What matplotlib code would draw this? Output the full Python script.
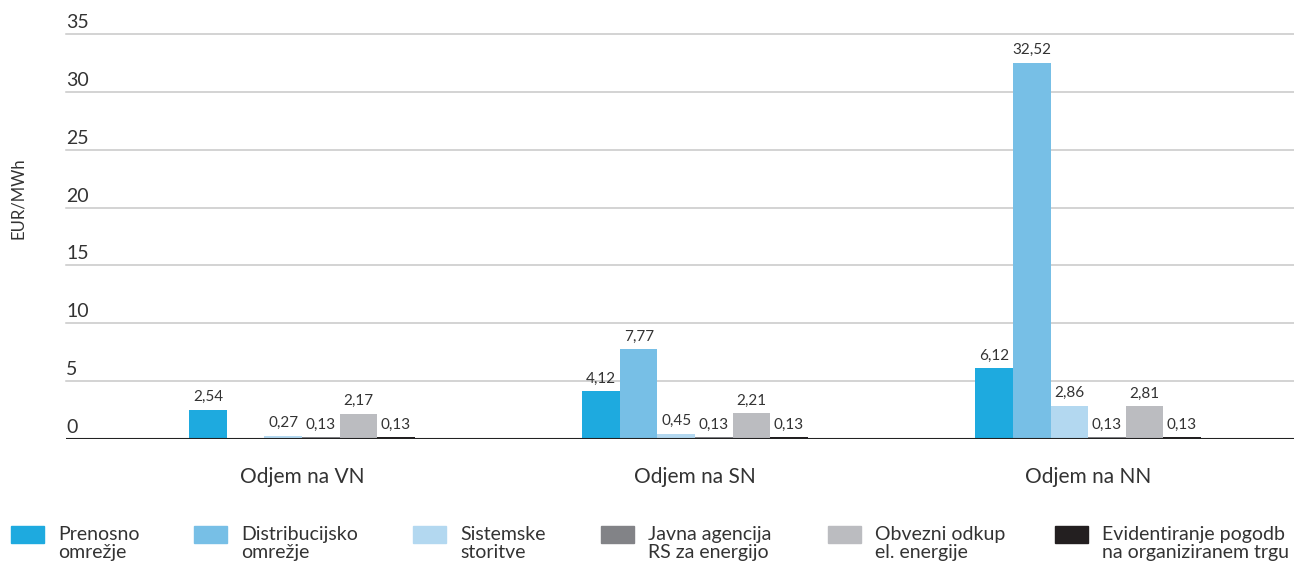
import numpy as np
import matplotlib
matplotlib.use("Agg")
import matplotlib.pyplot as plt
import matplotlib.transforms as mtransforms
from matplotlib.patches import Rectangle

plt.rcParams['font.family'] = ['Lato', 'DejaVu Sans']

categories = ['Odjem na VN', 'Odjem na SN', 'Odjem na NN']
series_names = ['Prenosno\nomrežje', 'Distribucijsko\nomrežje', 'Sistemske\nstoritve',
                'Javna agencija\nRS za energijo', 'Obvezni odkup\nel. energije',
                'Evidentiranje pogodb\nna organiziranem trgu']
prenosno = [2.54, 4.12, 6.12]
distribucijsko = [None, 7.77, 32.52]
sistemske = [0.27, 0.45, 2.86]
agencija = [0.13, 0.13, 0.13]
odkup = [2.17, 2.21, 2.81]
evidentiranje = [0.13, 0.13, 0.13]
series = [prenosno, distribucijsko, sistemske, agencija, odkup, evidentiranje]
colors = ['#1eaadf', '#77bfe6', '#b3d8f0', '#828387', '#bbbcc0', '#231f20']
yticks = [0, 5, 10, 15, 20, 25, 30, 35]

W, H = 1294, 567
fig = plt.figure(figsize=(W / 100, H / 100), dpi=100, facecolor='white')
ax = fig.add_axes([66 / W, (H - 439) / H, 1 - 66 / W, (439 - 34) / H])

txt = '#333333'
x = np.arange(len(categories))
bw = 0.0955
for i, (vals, col) in enumerate(zip(series, colors)):
    h = [0 if v is None else v for v in vals]
    bars = ax.bar(x + (i - 2.5) * bw, h, width=bw, color=col, zorder=3)
    labs = ['' if v is None else ('%.2f' % v).replace('.', ',') for v in vals]
    ax.bar_label(bars, labels=labs, padding=4, fontsize=11, color=txt)

ax.set_xlim(-0.6005, 2.524)
ax.set_ylim(0, 35)
for t in yticks[1:]:
    ax.axhline(t, color='#c8c8c8', lw=1.1, zorder=1, clip_on=False)
ax.axhline(0, color='#222222', lw=1.5, zorder=4)
for s in ax.spines.values():
    s.set_visible(False)

ax.set_yticks(yticks)
ax.set_yticklabels([str(t) for t in yticks], fontsize=14, color=txt, ha='left', va='bottom')
ax.tick_params(axis='y', length=0, pad=0)
offset = mtransforms.ScaledTranslation(0, 3 / 100, fig.dpi_scale_trans)
for lab in ax.yaxis.get_majorticklabels():
    lab.set_transform(lab.get_transform() + offset)

ax.set_xticks(x)
ax.set_xticklabels(categories, fontsize=15, color=txt)
ax.tick_params(axis='x', length=0, pad=20)

fig.text(18 / W, 1 - 198 / H, 'EUR/MWh', rotation=90, fontsize=12, color=txt,
         ha='center', va='center')

# legend
leg_x = [11, 194, 413, 601, 828, 1055]
for lx, name, col in zip(leg_x, series_names, colors):
    fig.add_artist(Rectangle((lx / W, 1 - 543 / H), 33 / W, 17 / H,
                             transform=fig.transFigure, color=col))
    fig.text((lx + 47) / W, 1 - 526 / H, name, fontsize=14, color=txt,
             ha='left', va='top', linespacing=1.05)

fig.savefig('out.png', dpi=100, facecolor='white')
